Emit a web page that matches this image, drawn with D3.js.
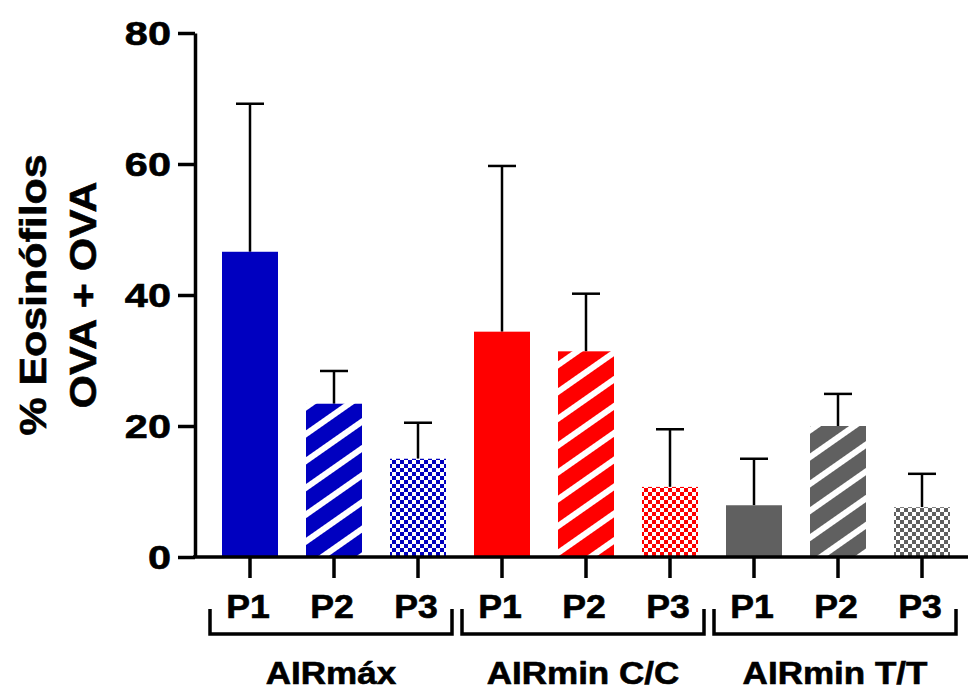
<!DOCTYPE html>
<html>
<head>
<meta charset="utf-8">
<script src="https://cdn.jsdelivr.net/npm/d3@7"></script>
<style>
  body { margin: 0; background: #fff; }
  text { font-family: "Liberation Sans", Arial, sans-serif; font-weight: bold; fill: #000; stroke: #000; stroke-width: 0.6px; }
</style>
</head>
<body>
<div id="chart"></div>
<script>
// data
const groups = ["AIRmáx", "AIRmin C/C", "AIRmin T/T"];
const periods = ["P1", "P2", "P3"];
const means = [
    [46.6, 23.4, 15.0],
    [34.4, 31.4, 10.7],
    [7.9, 20.0, 7.6]
];
const sds = [
    [22.6, 5.0, 5.5],
    [25.3, 8.8, 8.8],
    [7.1, 4.9, 5.1]
];
const yTicks = [0, 20, 40, 60, 80];
const groupColors = ["#0000c0", "#ff0000", "#606060"];

const W = 971, H = 691;
const svg = d3.select("#chart").append("svg")
    .attr("width", W)
    .attr("height", H);

// flat list of bars
let bars = [];
groups.forEach((g, gi) => {
    periods.forEach((p, pi) => {
        bars.push({ key: g + "|" + p, group: gi, period: pi, label: p, mean: means[gi][pi], sd: sds[gi][pi] });
    });
});

const x = d3.scaleBand()
    .domain(bars.map(d => d.key))
    .range([208, 964])
    .paddingInner(1 / 3)
    .paddingOuter(1 / 6);

const y = d3.scaleLinear().domain([0, 80]).range([557, 33]);

// ----- patterns -----
const defs = svg.append("defs");
groupColors.forEach((c, gi) => {
    const st = defs.append("pattern")
        .attr("id", "stripe" + gi)
        .attr("patternUnits", "userSpaceOnUse")
        .attr("width", 22).attr("height", 22)
        .attr("patternTransform", "rotate(-35)");
    st.append("rect").attr("width", 22).attr("height", 22).attr("fill", c);
    st.append("rect").attr("y", 0).attr("width", 22).attr("height", 6).attr("fill", "#fff");

    const ck = defs.append("pattern")
        .attr("id", "check" + gi)
        .attr("patternUnits", "userSpaceOnUse")
        .attr("width", 8).attr("height", 8);
    ck.append("rect").attr("width", 8).attr("height", 8).attr("fill", c);
    ck.append("rect").attr("width", 4).attr("height", 4).attr("fill", "#fff");
    ck.append("rect").attr("x", 4).attr("y", 4).attr("width", 4).attr("height", 4).attr("fill", "#fff");
});

function fillFor(d) {
    if (d.period === 0) return groupColors[d.group];
    if (d.period === 1) return "url(#stripe" + d.group + ")";
    return "url(#check" + d.group + ")";
}

// text with a bit of horizontal stretch like the original
function label(sel, tx, ty, str, size, sx, rot, anchor) {
    return sel.append("text")
        .attr("transform", "translate(" + tx + "," + ty + ")" + (rot ? " rotate(" + rot + ")" : "") + " scale(" + sx + ",1)")
        .attr("text-anchor", anchor || "middle")
        .style("font-size", size + "px")
        .text(str);
}

// ----- error bars (drawn under the bars) -----
const eb = svg.append("g").attr("stroke", "#000").attr("stroke-width", 2.5);
bars.forEach(d => {
    const cx = x(d.key) + x.bandwidth() / 2;
    eb.append("line")
        .attr("x1", cx).attr("x2", cx)
        .attr("y1", y(d.mean)).attr("y2", y(d.mean + d.sd));
    eb.append("line")
        .attr("x1", cx - 14).attr("x2", cx + 14)
        .attr("y1", y(d.mean + d.sd)).attr("y2", y(d.mean + d.sd));
});

// ----- bars -----
svg.append("g").selectAll("rect")
    .data(bars)
    .join("rect")
    .attr("x", d => x(d.key))
    .attr("y", d => y(d.mean))
    .attr("width", x.bandwidth())
    .attr("height", d => y(0) - y(d.mean))
    .attr("fill", d => fillFor(d));

// ----- y axis -----
const yAxis = svg.append("g")
    .attr("transform", "translate(195,0)")
    .call(d3.axisLeft(y).tickValues(yTicks).tickSize(17).tickSizeOuter(0));
yAxis.select(".domain").attr("stroke-width", 3.5);
yAxis.selectAll(".tick line").attr("stroke-width", 3.5);
yAxis.selectAll(".tick text").remove();
yTicks.forEach(v => {
    label(svg, 171, y(v) + 12, String(v), 34, 1.22, 0, "end");
});

// ----- x axis line + ticks -----
svg.append("line")
    .attr("x1", 193).attr("x2", 968)
    .attr("y1", 557).attr("y2", 557)
    .attr("stroke", "#000").attr("stroke-width", 3.5);

const xt = svg.append("g").attr("stroke", "#000").attr("stroke-width", 3.5);
bars.forEach(d => {
    const cx = x(d.key) + x.bandwidth() / 2;
    xt.append("line").attr("x1", cx).attr("x2", cx).attr("y1", 557).attr("y2", 578);
    label(svg, cx - 2, 618, d.label, 33, 1.08, 0);
});

// ----- group brackets -----
groups.forEach((g, gi) => {
    const first = x(g + "|P1") + x.bandwidth() / 2;
    const last = x(g + "|P3") + x.bandwidth() / 2;
    const left = first - 40, right = last + 34;
    svg.append("path")
        .attr("d", "M" + left + ",609 V634 H" + right + " V609")
        .attr("fill", "none")
        .attr("stroke", "#000")
        .attr("stroke-width", 3.5);
    label(svg, (left + right) / 2, 684, g, 31, 1.13, 0);
});

// ----- y title -----
label(svg, 46, 295, "% Eosinófilos", 37, 1.16, -90);
label(svg, 96, 295, "OVA + OVA", 37, 1.16, -90);
</script>
</body>
</html>
